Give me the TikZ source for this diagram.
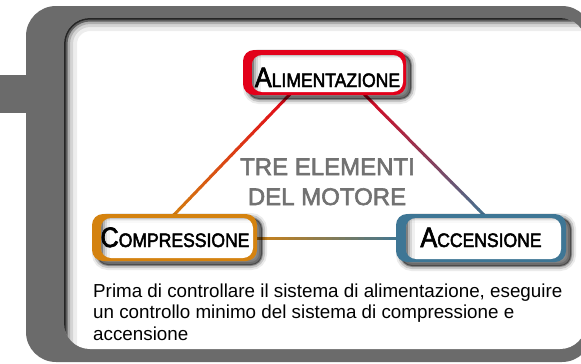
\documentclass[tikz,border=0pt]{standalone}
\usepackage{fontspec}
\setmainfont{Liberation Sans}
\newfontfamily\labelfont[FakeStretch=0.9,FakeBold=2.5]{Liberation Sans}
\newfontfamily\titlefont[FakeBold=2.5]{Liberation Sans}
\usetikzlibrary{calc,shadows}

\definecolor{alimred}{HTML}{E2001A}
\definecolor{compor}{HTML}{D4820F}
\definecolor{accblu}{HTML}{3E7695}
\definecolor{framegray}{HTML}{6B6B6B}
\definecolor{titlegray}{HTML}{727272}

% first letter large, the rest as small capitals
\newcommand{\capword}[2]{{\labelfont\fontsize{28}{28}\selectfont #1}{\labelfont\fontsize{19.5}{20}\selectfont #2}}
% connector whose colour runs from #3 to #4
\newcommand{\gradlink}[4]{%
	\foreach \k in {0,...,23}{%
		\pgfmathsetmacro{\pa}{\k/24}\pgfmathsetmacro{\pb}{(\k+1.1)/24}\pgfmathsetmacro{\mixp}{100-100*(\k+0.5)/24}%
		\draw[link,draw=#3!\mixp!#4] ($(#1)!\pa!(#2)$) -- ($(#1)!\pb!(#2)$);}}

\tikzset{
	link/.style={line width=3pt},
	colbox/.style={rounded corners=11pt,inner sep=0pt,
		drop shadow={shadow xshift=5pt,shadow yshift=-4pt,opacity=0.08,fill=black,draw=black,line width=10pt},
		drop shadow={shadow xshift=5pt,shadow yshift=-4pt,opacity=0.15,fill=black,draw=black,line width=6pt},
		drop shadow={shadow xshift=5pt,shadow yshift=-4pt,opacity=0.3,fill=black,draw=black,line width=2pt}},
	whitebox/.style={fill=white,rounded corners=10pt,inner sep=0pt,
		path picture={\foreach \w/\o in {18/0.06,12/0.1,7/0.15,3/0.3}{%
			\draw[line width=\w pt,black,opacity=\o] (path picture bounding box.north west) -- (path picture bounding box.south west);
			\draw[line width=0.5*\w pt,black,opacity=0.4*\o] (path picture bounding box.north west) -- (path picture bounding box.north east);}}},
	labeltext/.style={anchor=base,inner sep=0pt},
	midtext/.style={anchor=base,inner sep=0pt,text=titlegray,font=\titlefont\fontsize{24}{28}\selectfont},
}

\begin{document}
\begin{tikzpicture}[x=1pt,y=-1pt]
	\useasboundingbox (0,0) rectangle (581,364); \clip (0,0) rectangle (581,364);
	
	% frame and panel
	\fill[framegray,rounded corners=30pt] (26,6) rectangle (592,362); \fill[framegray] (0,75) rectangle (30,113);
	\fill[white,rounded corners=26pt] (64,18) rectangle (586,349);
	\begin{scope}
		\clip[rounded corners=26pt] (64,18) rectangle (586,349);
		\foreach \w/\o in {26/0.07,18/0.1,12/0.18,7/0.45,3/0.6} \draw[line width=\w pt,opacity=\o,rounded corners=26pt] (64,18) rectangle (620,400);
	\end{scope}
	
	% connectors
	\coordinate (alimL) at (294,90); \coordinate (compT) at (169,220);
	\coordinate (alimR) at (360,90); \coordinate (accT) at (489,220);
	\coordinate (compR) at (250,238); \coordinate (accL) at (402,238);
	\gradlink{alimL}{compT}{alimred}{compor}
	\gradlink{alimR}{accT}{alimred}{accblu}
	\gradlink{compR}{accL}{compor}{accblu}
	
	% the three elements
	\node[colbox,fill=alimred,minimum width=163pt,minimum height=45pt] (alimbg) at (324.5,72.5) {};
	\node[whitebox,minimum width=151pt,minimum height=37pt] (alim) at (327.5,73.5) {};
	\node[labeltext] (alimtxt) at (327.5,87) {\capword{A}{LIMENTAZIONE}};
	
	\node[colbox,fill=compor,minimum width=165pt,minimum height=47pt] (compbg) at (174.5,237.5) {};
	\node[whitebox,minimum width=152pt,minimum height=40pt] (comp) at (177,238) {};
	\node[labeltext] (comptxt) at (175,247) {\capword{C}{OMPRESSIONE}};
	
	\node[colbox,fill=accblu,minimum width=170pt,minimum height=48pt] (accbg) at (481,238) {};
	\node[whitebox,minimum width=155pt,minimum height=41pt] (acc) at (483.5,238.5) {};
	\node[labeltext] (acctxt) at (481,247) {\capword{A}{CCENSIONE}};
	
	% title and note
	\node[midtext] (title1) at (327.5,175) {TRE ELEMENTI};
	\node[midtext] (title2) at (327,205) {DEL MOTORE};
	\node[anchor=north west,inner sep=0pt,align=left,font=\fontsize{18.8}{21.5}\selectfont] (note) at (93,283.5)
		{Prima di controllare il sistema di alimentazione, eseguire\\un controllo minimo del sistema di compressione e\\accensione};
\end{tikzpicture}
\end{document}
